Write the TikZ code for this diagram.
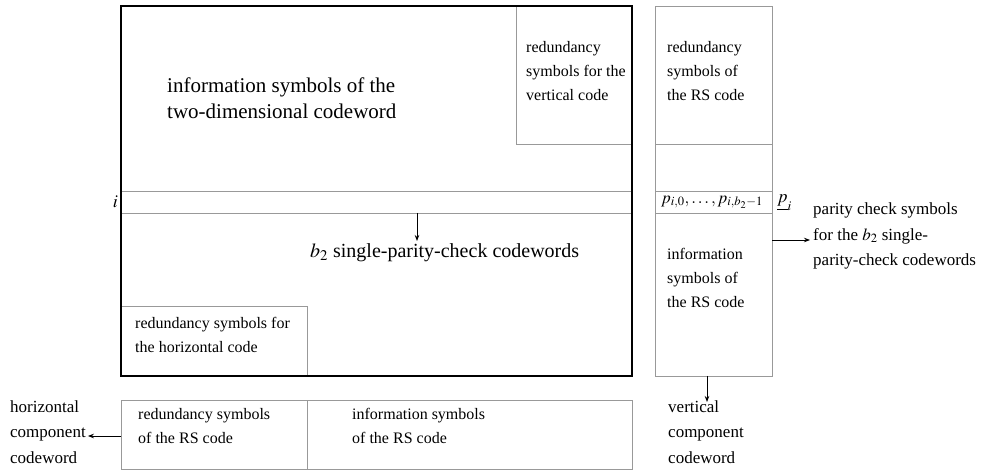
\documentclass[tikz,border=0pt]{standalone}
\usepackage{mathptmx}
\usepackage[no-math]{fontspec}
\setmainfont{Liberation Serif}
\usetikzlibrary{arrows.meta}
\tikzset{
  thickbox/.style={draw=black, line width=1.4pt, inner sep=0pt, anchor=north west},
  graybox/.style={draw=black!40, line width=0.8pt, inner sep=0pt, anchor=north west},
  gline/.style={draw=black!40, line width=0.8pt},
  lbl/.style={align=left, inner sep=0pt, anchor=west},
  bigtxt/.style={font=\fontsize{21}{26}\selectfont},
  boxtxt/.style={font=\fontsize{16}{24}\selectfont},
  sidetxt/.style={font=\fontsize{17}{25.5}\selectfont},
  arr/.style={-{Stealth[length=6pt,width=4.5pt]}, line width=0.8pt},
}
\begin{document}
\begin{tikzpicture}[x=1pt,y=-1pt]
\useasboundingbox (0,0) rectangle (989,473);
% main two-dimensional array
\node[thickbox, minimum width=511pt, minimum height=370pt] (main) at (121,6) {};
\draw[gline] (516,6) -- (516,144) -- (632,144);
\draw[gline] (121,191) -- (632,191);
\draw[gline] (121,213) -- (632,213);
\draw[gline] (121,306) -- (307,306) -- (307,376);
\draw[line width=1.4pt] (121,6) rectangle (632,376);
% right column
\node[graybox, minimum width=117pt, minimum height=370pt] (rcol) at (655,6) {};
\draw[gline] (655,144) -- (772,144);
\draw[gline] (655,191) -- (772,191);
\draw[gline] (655,213) -- (772,213);
% bottom row
\node[graybox, minimum width=511pt, minimum height=69pt] (bbox) at (121,400) {};
\draw[gline] (307,400) -- (307,469);
% texts
\node[lbl, bigtxt] (infotxt) at (167,98) {information symbols of the\\two-dimensional codeword};
\node[lbl, boxtxt] (vtxt) at (526,71) {redundancy\\symbols for the\\vertical code};
\node[lbl, boxtxt] (rtop) at (667,71) {redundancy\\symbols of\\the RS code};
\node[lbl, boxtxt] (rinfo) at (667,278) {information\\symbols of\\the RS code};
\node[lbl, boxtxt] (htxt) at (135,335) {redundancy symbols for\\the horizontal code};
\node[lbl, boxtxt] (bred) at (138,426) {redundancy symbols\\of the RS code};
\node[lbl, boxtxt] (binfo) at (352,426) {information symbols\\of the RS code};
\node[inner sep=0pt, anchor=east, font=\fontsize{18}{20}\selectfont] (ilbl) at (118,202) {$i$};
\node[inner sep=0pt, font=\fontsize{17}{18}\selectfont] (prow) at (712,202) {$p_{i,0},\ldots,p_{i,b_2-1}$};
\node[inner sep=0pt, anchor=west, font=\fontsize{18}{20}\selectfont] (pi) at (777,203) {$\underline{p}_i$};
\node[lbl, font=\fontsize{20}{26}\selectfont] (spc) at (310,253) {$b_2$ single-parity-check codewords};
\node[lbl, sidetxt] (ptxt) at (813,236) {parity check symbols\\for the $b_2$ single-\\parity-check codewords};
\node[lbl, sidetxt] (htxt2) at (10,432) {horizontal\\component\\codeword};
\node[lbl, sidetxt] (vtxt2) at (668,432) {vertical\\component\\codeword};
% arrows
\coordinate (rowb) at (417,213);
\draw[arr] (rowb) -- (417,241);
\coordinate (pstart) at (772,240);
\draw[arr] (pstart) -- ([xshift=-3pt]ptxt.west |- pstart);
\coordinate (bl) at (121,436);
\draw[arr] (bl) -- ([xshift=2pt]htxt2.east |- bl);
\coordinate (rb) at (707,376);
\draw[arr] (rb) -- (707,402);
\end{tikzpicture}
\end{document}
